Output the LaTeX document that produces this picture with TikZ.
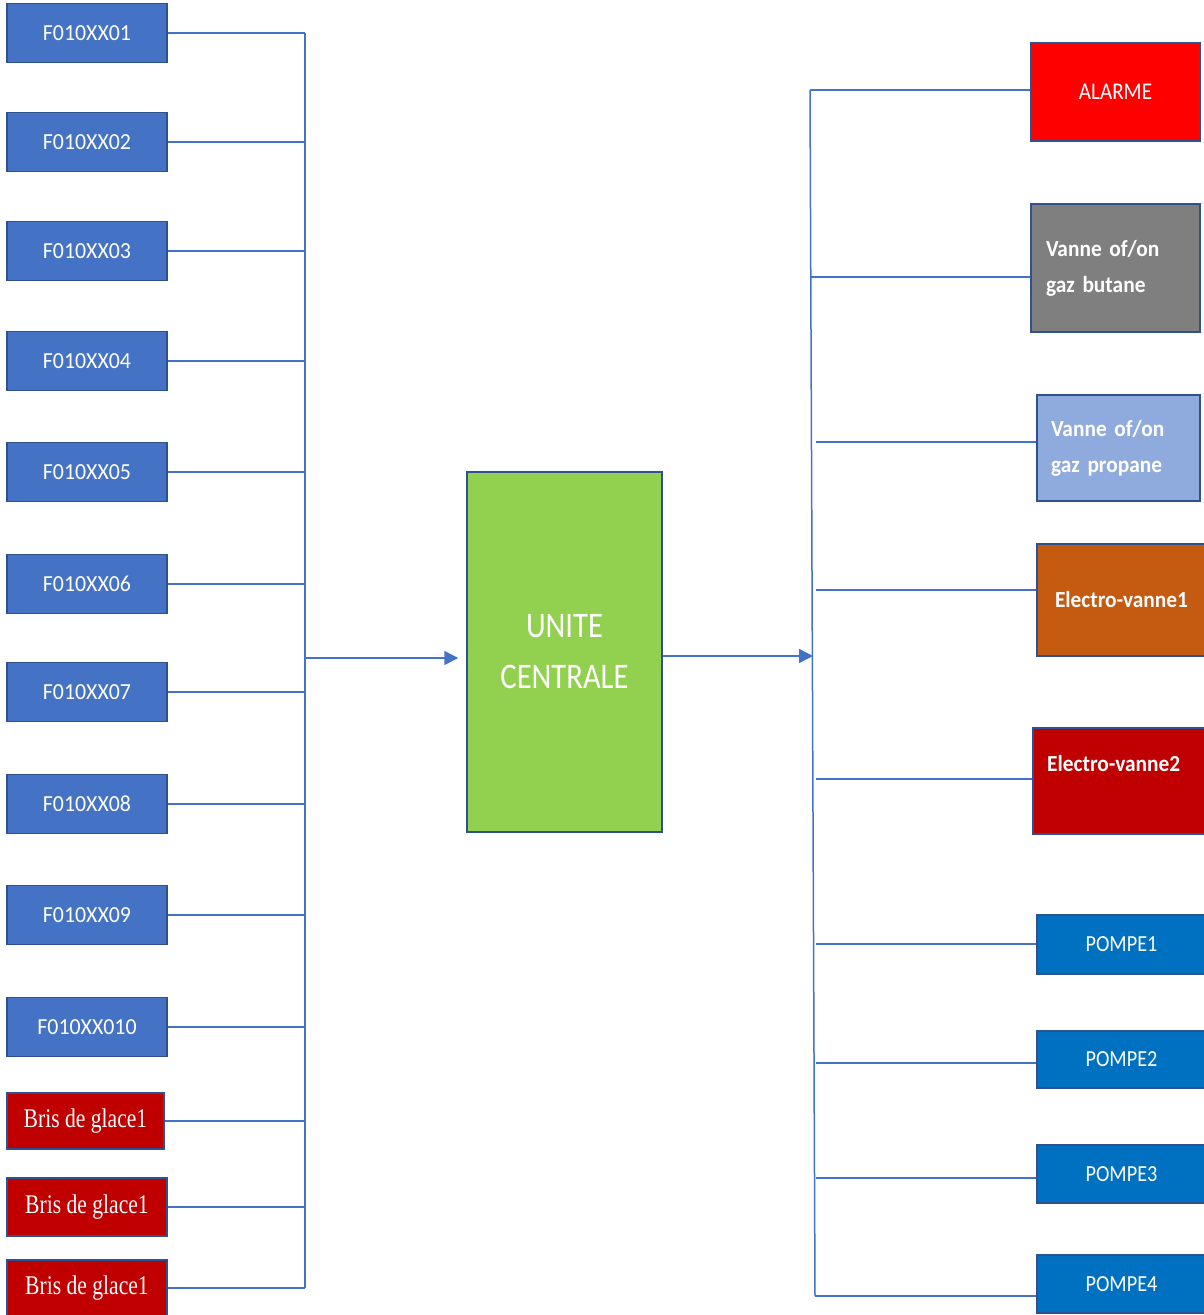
\documentclass[tikz,border=0pt]{standalone}
\usepackage{fontspec}
\setmainfont{Carlito}
\newfontfamily\labfont[FakeStretch=0.95]{Carlito}
\newfontfamily\outfont[FakeStretch=0.88]{Carlito}
\newfontfamily\boldfont[FakeStretch=0.93,WordSpace=0.7]{Carlito}
\newfontfamily\unitfont[FakeStretch=0.85]{Carlito}
\newfontfamily\brisfont[FakeStretch=0.8]{Liberation Serif}
\usetikzlibrary{arrows.meta}
\definecolor{wireblue}{HTML}{4472C4}
\definecolor{edgeblue}{HTML}{2F528F}
\definecolor{sensorblue}{HTML}{4472C4}
\definecolor{unitgreen}{HTML}{92D050}
\definecolor{alarmred}{HTML}{FF0000}
\definecolor{butanegray}{HTML}{7F7F7F}
\definecolor{propaneblue}{HTML}{8FAADC}
\definecolor{valveorange}{HTML}{C55A11}
\definecolor{darkred}{HTML}{C00000}
\definecolor{pumpblue}{HTML}{0070C0}
\tikzset{
  box/.style={draw=edgeblue, line width=1.5pt, inner sep=0pt, text=white},
  sensor/.style={box, fill=sensorblue, minimum width=160pt, minimum height=59pt,
    font=\labfont\fontsize{23}{23}\selectfont},
  bris/.style={box, fill=darkred, font=\brisfont\fontsize{27}{27}\selectfont},
  pump/.style={box, fill=pumpblue, minimum width=169pt,
    font=\outfont\fontsize{23}{23}\selectfont},
  wire/.style={draw=wireblue, line width=1.5pt},
  flow/.style={wire, -{Triangle[length=14pt,width=14pt]}},
}
\begin{document}
\begin{tikzpicture}[x=1pt,y=-1pt]
\useasboundingbox (0,0) rectangle (1204,1315);

% sensors on the left
\node[sensor] (f1)  at (87,33)   {F010XX01};
\node[sensor] (f2)  at (87,142)  {F010XX02};
\node[sensor] (f3)  at (87,251)  {F010XX03};
\node[sensor] (f4)  at (87,361)  {F010XX04};
\node[sensor] (f5)  at (87,472)  {F010XX05};
\node[sensor] (f6)  at (87,584)  {F010XX06};
\node[sensor] (f7)  at (87,692)  {F010XX07};
\node[sensor] (f8)  at (87,804)  {F010XX08};
\node[sensor] (f9)  at (87,915)  {F010XX09};
\node[sensor] (f10) at (87,1027) {F010XX010};
\node[bris, minimum width=157pt, minimum height=56pt] (b1) at (85.5,1121) {Bris de glace1};
\node[bris, minimum width=160pt, minimum height=58pt] (b2) at (87,1207) {Bris de glace1};
\node[bris, minimum width=160pt, minimum height=56pt] (b3) at (87,1288) {Bris de glace1};

% left collector bus
\coordinate (lbtop) at (305,33);
\coordinate (lbbot) at (305,1288);
\coordinate (lbout) at (305,658);
\draw[wire] (lbtop) -- (lbbot);
\foreach \n in {f1,f2,f3,f4,f5,f6,f7,f8,f9,f10,b1,b2,b3}
  \draw[wire] (\n.east) -- (\n.east -| lbtop);

% central unit
\node[box, fill=unitgreen, minimum width=195pt, minimum height=360pt,
      align=center, font=\unitfont\fontsize{36}{51}\selectfont] (cu) at (564.5,652)
      {UNITE\\CENTRALE};
\draw[flow, shorten >=8pt] (lbout) -- (lbout -| cu.west);

% right distribution bus
\coordinate (rbin)  at (813,656);
\coordinate (rbtop) at (810,90);
\coordinate (rbbot) at (815,1296);
\draw[flow] (cu.east |- rbin) -- (rbin);
\draw[wire] (rbtop) -- (rbbot);

% actuators on the right
\node[box, fill=alarmred, minimum width=169pt, minimum height=98pt,
      font=\outfont\fontsize{24}{24}\selectfont] (al) at (1115.5,92) {ALARME};
\node[box, fill=butanegray, minimum width=169pt, minimum height=128pt,
      text width=139pt, align=left, inner xsep=15pt,
      font=\boldfont\bfseries\fontsize{23}{36}\selectfont] (vb) at (1115.5,268)
      {Vanne of/on\\gaz butane};
\node[box, fill=propaneblue, minimum width=163pt, minimum height=106pt,
      text width=135pt, align=left, inner xsep=14pt,
      font=\boldfont\bfseries\fontsize{23}{36}\selectfont] (vp) at (1118.5,448)
      {Vanne of/on\\gaz propane};
\node[box, fill=valveorange, minimum width=169pt, minimum height=112pt,
      font=\boldfont\bfseries\fontsize{23}{23}\selectfont] (ev1) at (1121.5,600)
      {Electro-vanne1};
\node[box, fill=darkred, minimum width=173pt, minimum height=106pt] (ev2) at (1119.5,781) {};
\node[anchor=west, inner sep=0pt, text=white,
      font=\boldfont\bfseries\fontsize{23}{23}\selectfont] (ev2t) at (1047,764)
      {Electro-vanne2};
\node[pump, minimum height=59pt] (p1) at (1121.5,944.5) {POMPE1};
\node[pump, minimum height=57pt] (p2) at (1121.5,1059.5) {POMPE2};
\node[pump, minimum height=58pt] (p3) at (1121.5,1174) {POMPE3};
\node[pump, minimum height=58pt] (p4) at (1121.5,1284) {POMPE4};

% branches from the right bus
\draw[wire] (rbtop) -- (rbtop -| al.west);
\coordinate (tb) at (810,277);  \draw[wire] (tb) -- (tb -| vb.west);
\coordinate (tp) at (816,442);  \draw[wire] (tp) -- (tp -| vp.west);
\coordinate (t1) at (816,590);  \draw[wire] (t1) -- (t1 -| ev1.west);
\coordinate (t2) at (816,779);  \draw[wire] (t2) -- (t2 -| ev2.west);
\coordinate (t3) at (816,944);  \draw[wire] (t3) -- (t3 -| p1.west);
\coordinate (t4) at (816,1063); \draw[wire] (t4) -- (t4 -| p2.west);
\coordinate (t5) at (816,1178); \draw[wire] (t5) -- (t5 -| p3.west);
\draw[wire] (rbbot) -- (rbbot -| p4.west);
\end{tikzpicture}
\end{document}
